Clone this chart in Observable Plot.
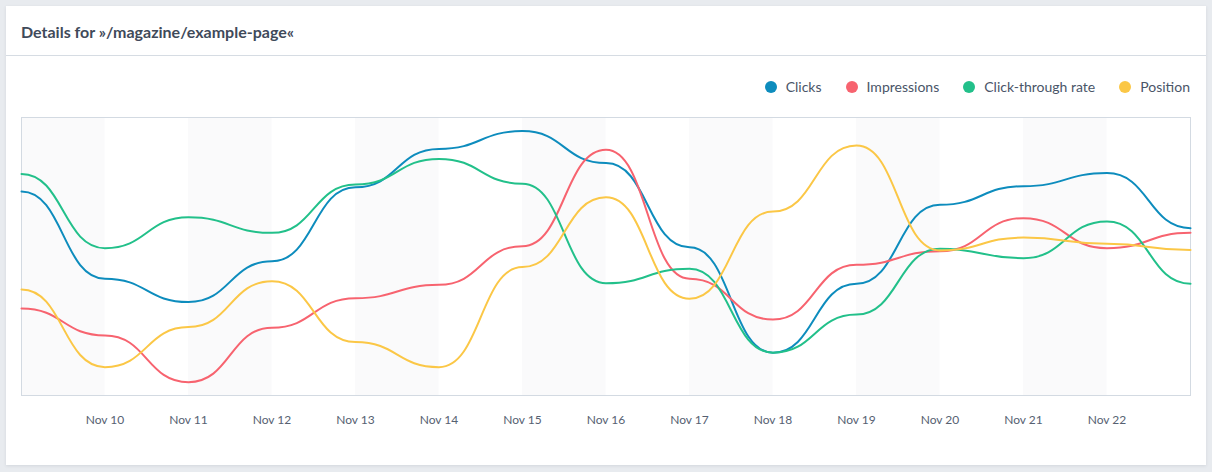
<!DOCTYPE html>
<html>
<head>
<meta charset="utf-8">
<script src="https://cdn.jsdelivr.net/npm/d3@7"></script>
<script src="https://cdn.jsdelivr.net/npm/@observablehq/plot@0.6"></script>
<style>
  html, body { margin: 0; padding: 0; }
  body { width: 1212px; height: 472px; background: #e8ebef; position: relative; overflow: hidden; font-family: Lato, "Open Sans", sans-serif; }
  .card { position: absolute; left: 6px; top: 6px; width: 1200px; height: 459px; background: #fff; box-shadow: 0 1px 3px rgba(60,70,90,0.12); }
  .title { position: absolute; left: 15px; top: 16px; font-size: 16px; font-weight: 700; color: #3f4a5a; }
  .sep { position: absolute; left: 0; right: 0; top: 49px; height: 1px; background: #d6dce3; }
  .legend { position: absolute; right: 22px; top: 78px; display: flex; font-size: 14px; color: #4a5568; }
  .legend .item { display: flex; align-items: center; margin-left: 24px; }
  .legend .dot { width: 12px; height: 12px; border-radius: 50%; margin-right: 9px; }
  #chart { position: absolute; left: 0; top: 100px; }
</style>
</head>
<body>
<div class="card">
  <div class="title">Details for »/magazine/example-page«</div>
  <div class="sep"></div>
</div>
<div class="legend" id="legend"></div>
<div id="chart"></div>
<script>
const days = [9, 10, 11, 12, 13, 14, 15, 16, 17, 18, 19, 20, 21, 22, 23];
const tickDays = [10, 11, 12, 13, 14, 15, 16, 17, 18, 19, 20, 21, 22];
const seriesNames = ["Clicks", "Impressions", "Click-through rate", "Position"];
const seriesColors = ["#0d8cbd", "#f7636f", "#22c08a", "#fbc746"];
const clicks      = [73.4, 42.0, 33.6, 48.3, 74.9, 88.7, 95.1, 83.6, 53.3, 15.4, 40.2, 68.6, 75.3, 80.0, 60.2];
const impressions = [31.3, 21.6, 4.8, 24.4, 35.0, 39.8, 53.7, 88.4, 42.0, 27.3, 47.0, 51.9, 63.8, 53.0, 58.5];
const ctr         = [79.7, 53.0, 64.1, 58.5, 75.9, 85.1, 76.2, 40.4, 45.6, 15.4, 29.1, 52.8, 49.4, 62.6, 40.2];
const position    = [38.1, 10.2, 24.6, 41.1, 19.2, 10.2, 46.2, 71.3, 34.8, 66.2, 89.9, 52.2, 56.8, 54.6, 52.3];

const seriesValues = [clicks, impressions, ctr, position];
const rows = seriesNames.flatMap((name, s) => days.map((d, i) => ({series: name, day: d, value: seriesValues[s][i]})));
const bands = days.slice(0, -1).filter((d, i) => i % 2 === 0).map(d => ({x1: d, x2: d + 1}));

const legend = document.getElementById("legend");
seriesNames.forEach((n, i) => {
  const it = document.createElement("div");
  it.className = "item";
  it.innerHTML = `<span class="dot" style="background:${seriesColors[i]}"></span><span>${n}</span>`;
  legend.appendChild(it);
});

const chart = Plot.plot({
  width: 1212,
  height: 340,
  marginLeft: 21,
  marginRight: 22,
  marginTop: 17,
  marginBottom: 45,
  style: {fontFamily: "Lato, 'Open Sans', sans-serif", background: "transparent"},
  x: {domain: [days[0], days[days.length - 1]]},
  y: {domain: [0, 100], axis: null},
  color: {domain: seriesNames, range: seriesColors},
  marks: [
    Plot.rect(bands, {x1: "x1", x2: "x2", y1: 0, y2: 100, fill: "#fafafb"}),
    Plot.frame({stroke: "#d3dae2"}),
    Plot.line(rows, {x: "day", y: "value", z: "series", stroke: "series", strokeWidth: 2, curve: "bump-x"}),
    Plot.axisX({ticks: tickDays, tickSize: 0, tickPadding: 20, tickFormat: d => "Nov " + d, fontSize: 12, fill: "#566172"})
  ]
});
document.getElementById("chart").appendChild(chart);
</script>
</body>
</html>
